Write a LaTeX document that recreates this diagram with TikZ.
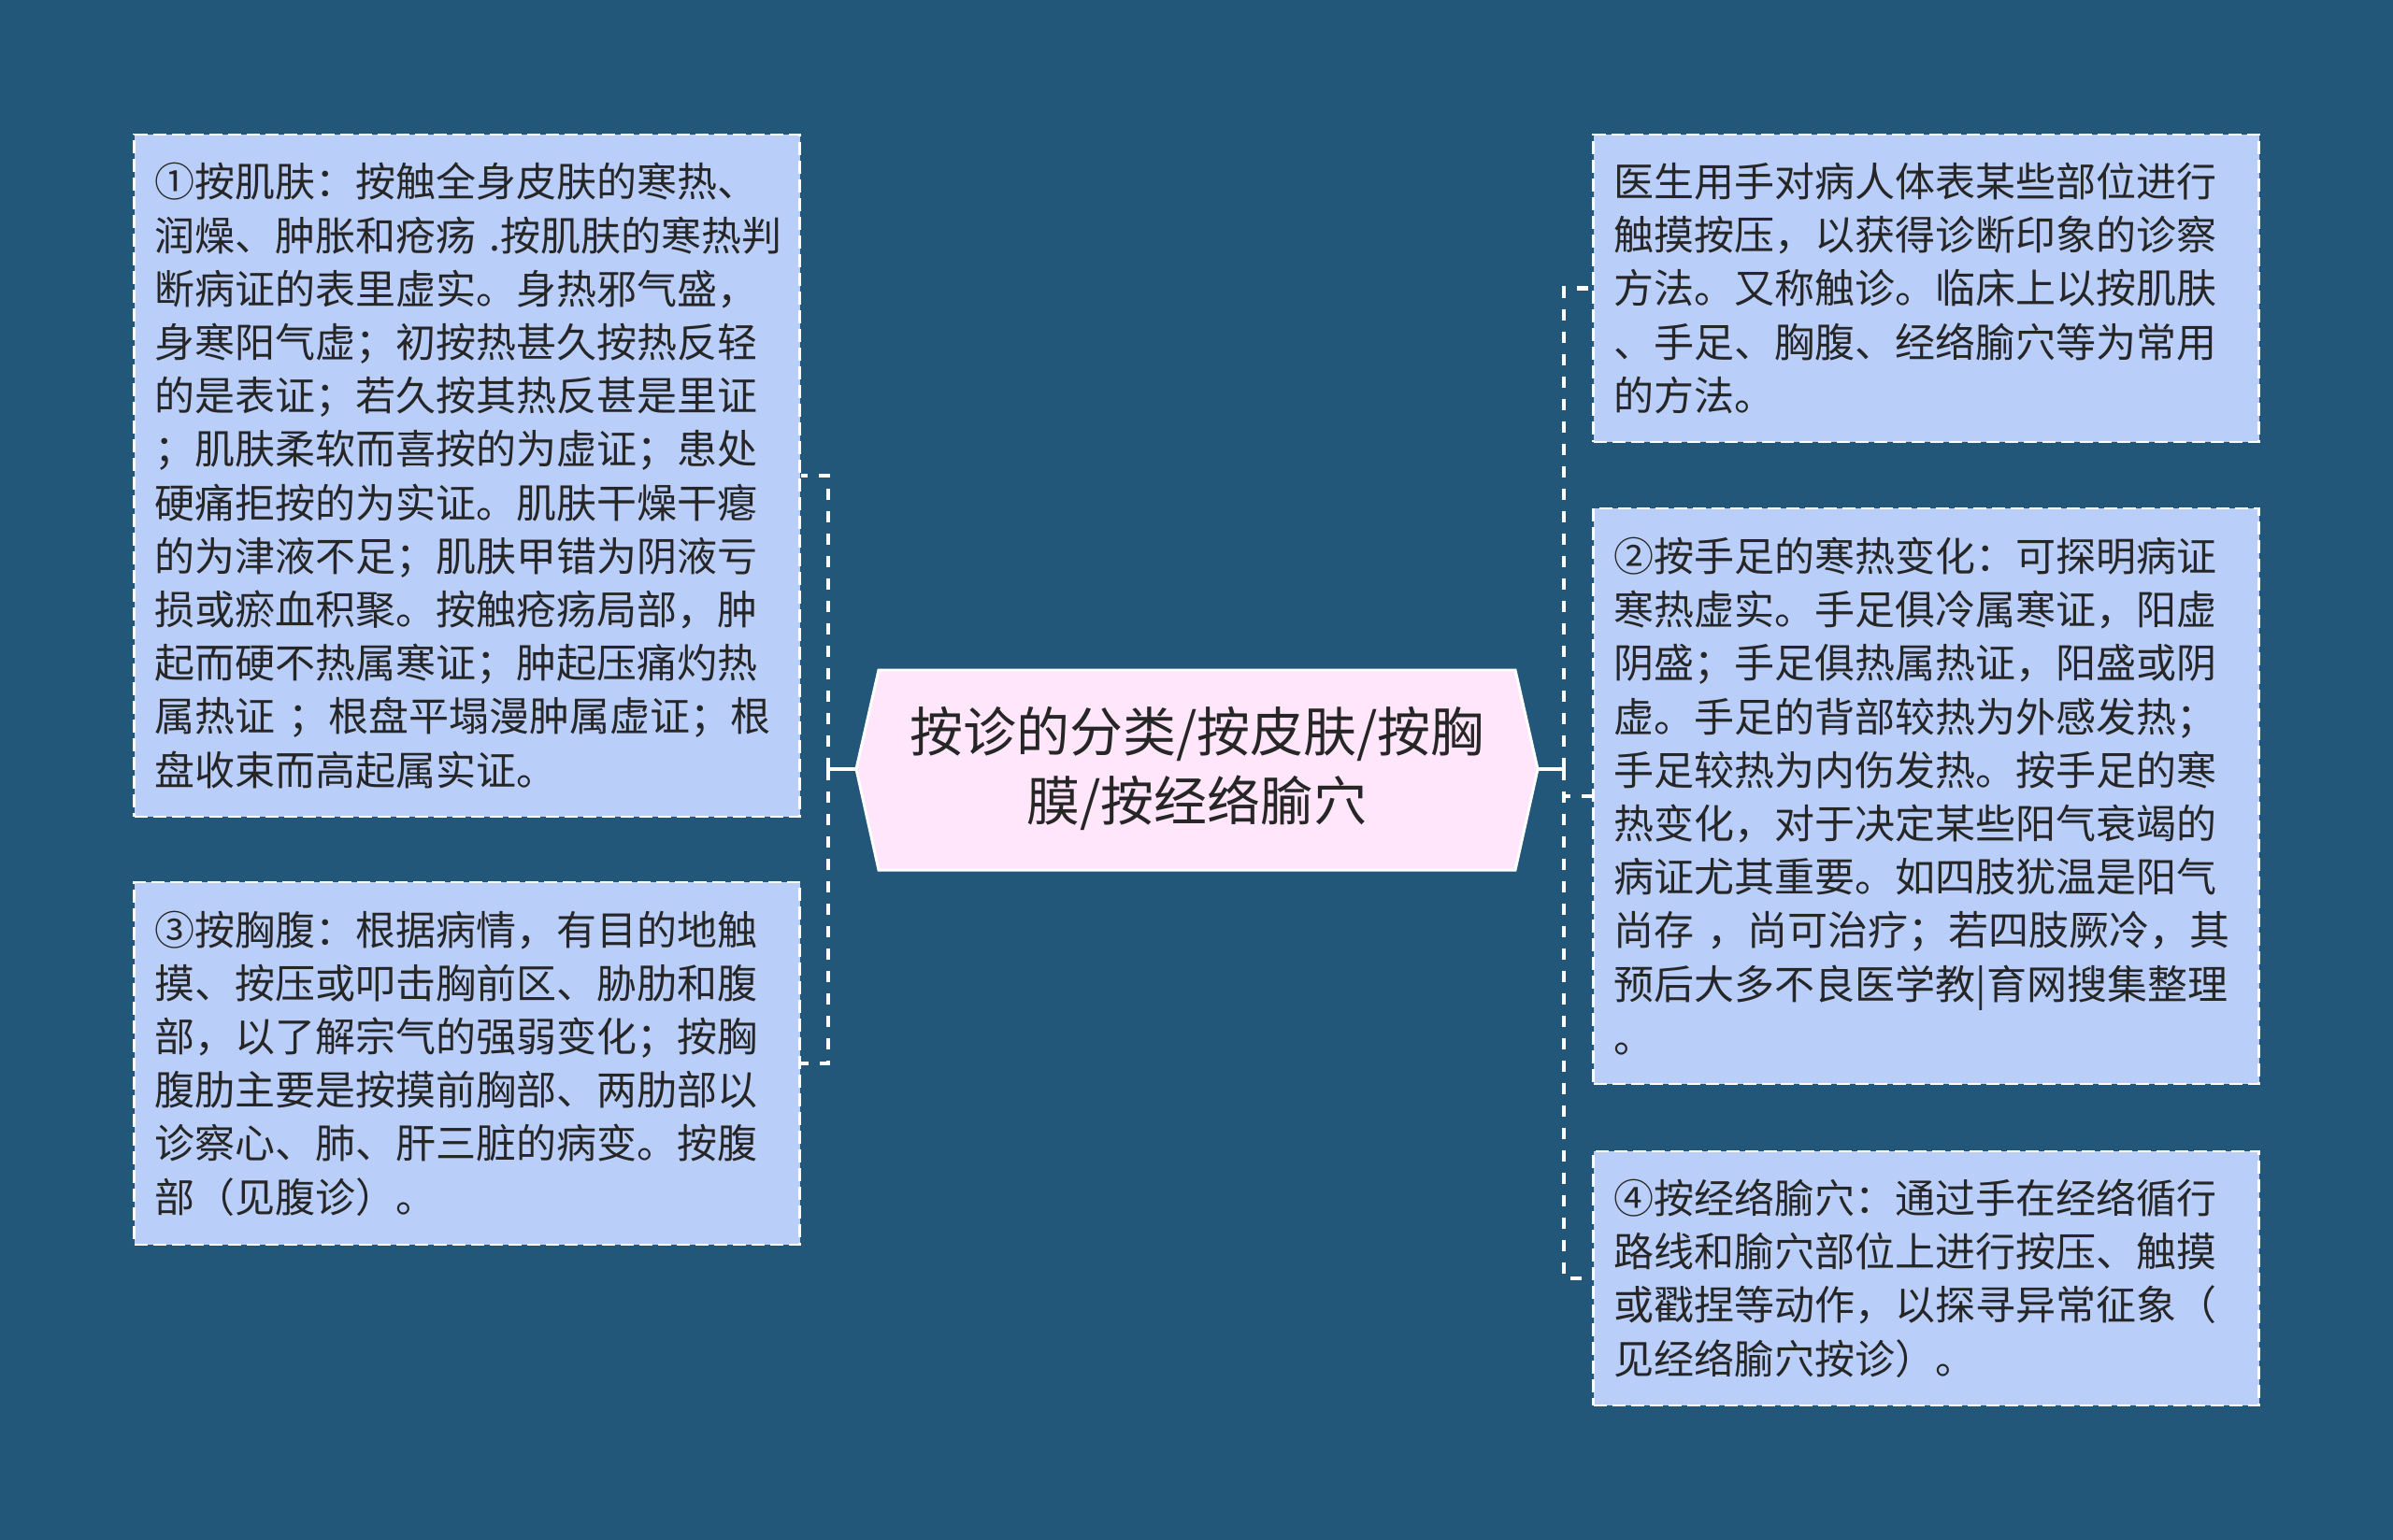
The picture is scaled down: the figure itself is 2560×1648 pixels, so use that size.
\documentclass[tikz,border=0pt]{standalone}
\usepackage{fontspec}
\setmainfont{Noto Sans CJK SC}
\definecolor{bg}{RGB}{35,87,121}
\definecolor{boxfill}{RGB}{186,206,250}
\definecolor{cfill}{RGB}{255,230,250}
\definecolor{txt}{RGB}{38,38,38}
\tikzset{
  infobox/.style={draw=white, line width=1.2pt, dash pattern=on 7pt off 3pt, fill=boxfill,
    text=txt, align=left, text width=334pt, inner xsep=11pt, inner ysep=0pt,
    minimum width=356pt, font=\fontsize{21.5pt}{28.6pt}\selectfont},
  cshape/.style={fill=cfill, draw=white, line width=1.5pt},
  ctext/.style={text=txt, align=center, inner sep=0pt, font=\fontsize{28.5pt}{37pt}\selectfont},
  stub/.style={draw=white, line width=2.2pt},
  conn/.style={draw=white, line width=2.2pt, dash pattern=on 6pt off 6pt}
}
\begin{document}
\begin{tikzpicture}[x=0.5pt,y=-0.5pt]
\fill[bg] (0,0) rectangle (2560,1648);
\useasboundingbox (0,0) rectangle (2560,1648);

% centre
\filldraw[cshape] (916,823) -- (940,717) -- (1621,717) -- (1645,823) -- (1621,931) -- (940,931) -- cycle;
\node[ctext, minimum width=364.5pt, minimum height=107pt] (c) at (1280.5,823)
  {按诊的分类/按皮肤/按胸\\膜/按经络腧穴};

% left boxes
\node[infobox, minimum height=365pt] (b1) at (499.5,509)
  {①按肌肤：按触全身皮肤的寒热、\\
   润燥、肿胀和疮疡~.按肌肤的寒热判\\
   断病证的表里虚实。身热邪气盛，\\
   身寒阳气虚；初按热甚久按热反轻\\
   的是表证；若久按其热反甚是里证\\
   ；肌肤柔软而喜按的为虚证；患处\\
   硬痛拒按的为实证。肌肤干燥干瘪\\
   的为津液不足；肌肤甲错为阴液亏\\
   损或瘀血积聚。按触疮疡局部，肿\\
   起而硬不热属寒证；肿起压痛灼热\\
   属热证~；根盘平塌漫肿属虚证；根\\
   盘收束而高起属实证。};
\node[infobox, minimum height=194pt] (b2) at (499.5,1138)
  {③按胸腹：根据病情，有目的地触\\
   摸、按压或叩击胸前区、胁肋和腹\\
   部，以了解宗气的强弱变化；按胸\\
   腹肋主要是按摸前胸部、两肋部以\\
   诊察心、肺、肝三脏的病变。按腹\\
   部（见腹诊）。};

% right boxes
\node[infobox, minimum height=164.5pt] (r1) at (2060.5,308.5)
  {医生用手对病人体表某些部位进行\\
   触摸按压，以获得诊断印象的诊察\\
   方法。又称触诊。临床上以按肌肤\\
   、手足、胸腹、经络腧穴等为常用\\
   的方法。};
\node[infobox, minimum height=308pt] (r2) at (2060.5,852)
  {②按手足的寒热变化：可探明病证\\
   寒热虚实。手足俱冷属寒证，阳虚\\
   阴盛；手足俱热属热证，阳盛或阴\\
   虚。手足的背部较热为外感发热；\\
   手足较热为内伤发热。按手足的寒\\
   热变化，对于决定某些阳气衰竭的\\
   病证尤其重要。如四肢犹温是阳气\\
   尚存~，尚可治疗；若四肢厥冷，其\\
   预后大多不良医学教|育网搜集整理\\
   。};
\node[infobox, minimum height=136pt] (r3) at (2060.5,1368)
  {④按经络腧穴：通过手在经络循行\\
   路线和腧穴部位上进行按压、触摸\\
   或戳捏等动作，以探寻异常征象（\\
   见经络腧穴按诊）。};

% connectors
\coordinate (lbus) at (886,823);
\coordinate (rbus) at (1673,823);
\draw[stub] (c.west) -- (lbus);
\draw[conn] (lbus) |- (b1.east);
\draw[conn] (lbus) |- (b2.east);
\draw[stub] (c.east) -- (rbus);
\draw[conn] (rbus) |- (r1.west);
\draw[conn] (rbus) |- (r2.west);
\draw[conn] (rbus) |- (r3.west);
\end{tikzpicture}
\end{document}
